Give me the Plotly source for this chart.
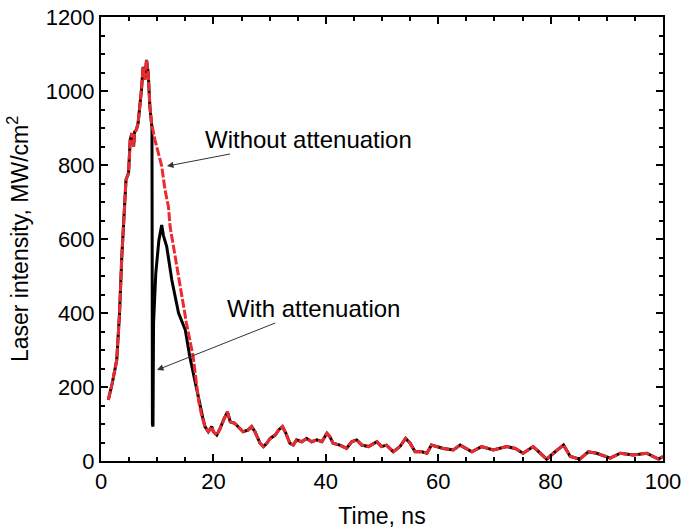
import plotly.graph_objects as go

# Shared rising part and tail (both curves coincide there)
t_rise = [1.3, 2.0, 2.8, 3.3, 3.7, 4.1, 4.45, 4.9, 5.2, 5.5, 5.8, 6.0, 6.3, 6.6, 6.9, 7.2, 7.5, 7.8,
          8.1, 8.4, 8.7, 9.0]
i_rise = [165, 210, 273, 400, 552, 680, 760, 778, 868, 886, 850, 890, 895, 913, 957, 1003, 1065, 1030,
          1084, 1049, 958, 913]

t_tail = [18.5, 19.1, 19.7, 20.0, 20.6, 21.2, 21.8, 22.5, 23.0, 23.8, 24.7, 25.3, 26.2, 26.8, 27.4,
          28.3, 28.9, 29.5, 30.1, 31.0, 31.6, 32.3, 32.9, 33.6, 34.2, 34.8, 35.7, 36.6, 37.5, 38.4,
          39.3, 40.2, 40.7, 41.3, 42.5, 43.7, 44.6, 45.5, 46.4, 47.6, 49.1, 49.9, 50.8, 52.0, 53.2,
          54.2, 55.0, 55.9, 57.1, 58.0, 58.8, 60.9, 62.7, 63.9, 66.0, 67.7, 69.8, 72.2, 73.7, 75.1,
          76.9, 79.3, 80.8, 82.3, 83.5, 85.2, 86.7, 88.2, 90.6, 92.4, 94.7, 97.1, 99.2, 100.0]
i_tail = [93, 79, 93, 79, 70, 88, 111, 133, 106, 102, 88, 79, 84, 93, 79,
          48, 39, 48, 61, 70, 84, 93, 75, 48, 43, 57, 52, 61, 52, 57,
          52, 75, 66, 48, 43, 34, 52, 57, 43, 39, 52, 39, 43, 25, 39,
          61, 48, 25, 25, 21, 43, 34, 30, 43, 25, 39, 30, 39, 34, 21,
          39, 5, 25, 43, 12, 5, 25, 21, 8, 21, 16, 21, 5, 12]

# Red: without attenuation (falling part)
t_fall_without = [9.6, 10.2, 10.8, 11.4, 12.0, 12.3, 13.2, 14.1, 15.2, 16.4, 17.0, 17.4, 17.9]
i_fall_without = [868, 830, 797, 732, 687, 633, 552, 462, 373, 282, 200, 160, 124]

# Black: with attenuation (drop, second peak and fall)
t_fall_with = [9.07, 9.15, 9.25, 9.3, 9.35, 9.75, 10.3, 10.8, 11.1, 11.7, 12.6, 13.8, 15.0, 15.8,
               17.0, 17.6, 18.1]
i_fall_with = [900, 100, 93, 238, 373, 508, 597, 638, 610, 579, 489, 400, 354, 282, 192, 150, 118]

t_without = t_rise + t_fall_without + t_tail
i_without = i_rise + i_fall_without + i_tail
t_with = t_rise + t_fall_with + t_tail
i_with = i_rise + i_fall_with + i_tail

x_ticks = [0, 20, 40, 60, 80, 100]
y_ticks = [0, 200, 400, 600, 800, 1000, 1200]

FONT = "Liberation Sans, Arial, sans-serif"

fig = go.Figure()
fig.add_trace(go.Scatter(x=t_with, y=i_with, mode="lines", name="With attenuation",
                         line=dict(color="black", width=3)))
fig.add_trace(go.Scatter(x=t_without, y=i_without, mode="lines", name="Without attenuation",
                         line=dict(color="#ee2a2f", width=3, dash="9px,2px")))
# invisible trace to activate mirrored tick axes (top / right)
fig.add_trace(go.Scatter(x=[None], y=[None], xaxis="x2", yaxis="y2", showlegend=False, hoverinfo="skip"))

tick_common = dict(ticks="inside", ticklen=7, tickwidth=2, tickcolor="black",
                   showgrid=False, zeroline=False)
minor_x = dict(dtick=5, ticks="inside", ticklen=4, tickwidth=2, tickcolor="black")
minor_y = dict(dtick=50, ticks="inside", ticklen=4, tickwidth=2, tickcolor="black")

fig.update_layout(
    xaxis=dict(range=[0, 100], tickvals=x_ticks, minor=minor_x, automargin=False,
               ticklabeloverflow="allow",
               showline=True, linecolor="black", linewidth=2, mirror=True,
               tickfont=dict(family=FONT, size=22, color="black"),
               title=dict(text="Time, ns", font=dict(family=FONT, size=23, color="black"), standoff=14),
               **tick_common),
    yaxis=dict(range=[0, 1200], tickvals=y_ticks, minor=minor_y, automargin=False,
               ticklabeloverflow="allow",
               showline=True, linecolor="black", linewidth=2, mirror=True,
               tickfont=dict(family=FONT, size=22, color="black"),
               title=dict(text="Laser intensity, MW/cm<sup>2</sup>", font=dict(family=FONT, size=23, color="black"), standoff=11),
               **tick_common),
    xaxis2=dict(range=[0, 100], tickvals=x_ticks, minor=minor_x, overlaying="x", side="top",
                showticklabels=False, automargin=False,
                showline=True, linecolor="black", linewidth=2, **tick_common),
    yaxis2=dict(range=[0, 1200], tickvals=y_ticks, minor=minor_y, overlaying="y", side="right",
                showticklabels=False, automargin=False,
                showline=True, linecolor="black", linewidth=2, **tick_common),
)

# Labels with arrows: text sits at (ax, ay), arrow points to (x, y)
fig.add_annotation(x=11.74, y=797, ax=(308 - 101) / 5.62, ay=(461 - 139) / 0.37,
                   xref="x", yref="y", axref="x", ayref="y",
                   text="Without attenuation", showarrow=True, arrowhead=2, arrowsize=1.3,
                   arrowwidth=1, arrowcolor="#333333",
                   font=dict(family=FONT, size=24, color="black"))
fig.add_annotation(x=9.96, y=246, ax=(313 - 101) / 5.62, ay=(461 - 308) / 0.37,
                   xref="x", yref="y", axref="x", ayref="y",
                   text="With attenuation", showarrow=True, arrowhead=2, arrowsize=1.3,
                   arrowwidth=1, arrowcolor="#333333",
                   font=dict(family=FONT, size=24, color="black"))

fig.update_layout(
    width=684, height=530,
    margin=dict(l=101, r=21, t=17, b=69),
    paper_bgcolor="white", plot_bgcolor="white",
    showlegend=False,
)

fig.write_html("out.html", config={"displayModeBar": False},
               post_script="document.body.style.margin='0';document.body.style.overflow='hidden';")
